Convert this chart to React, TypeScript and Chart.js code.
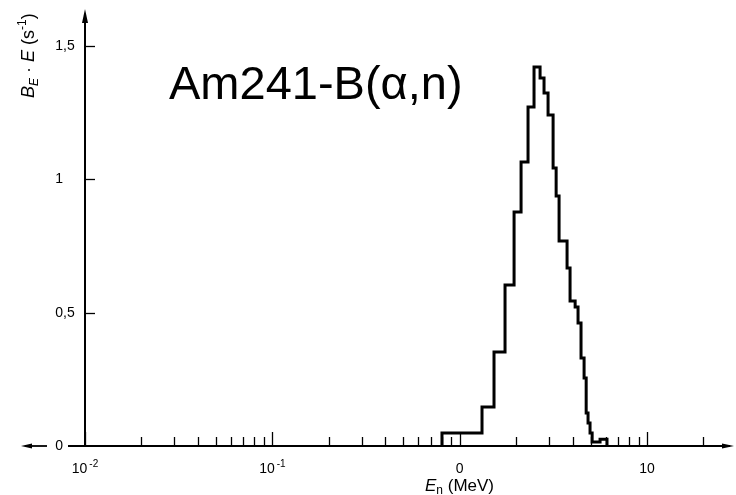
import React, { useEffect, useRef } from "react";
import { Chart, registerables } from "chart.js";

Chart.register(...registerables);

// Histogram bin edges (MeV) and bin heights B_E·E (s^-1)
const binEdgesMeV = [
  0.804, 1.315, 1.524, 1.745, 1.95, 2.125, 2.315, 2.492, 2.684, 2.818, 2.961,
  3.15, 3.27, 3.39, 3.74, 3.88, 4.13, 4.28, 4.44, 4.61, 4.73, 4.84, 4.96, 5.09,
  5.61, 6.11,
];
const binValues = [
  0.049, 0.146, 0.352, 0.604, 0.877, 1.065, 1.271, 1.421, 1.38, 1.324, 1.241,
  1.042, 0.937, 0.769, 0.667, 0.544, 0.521, 0.461, 0.33, 0.255, 0.124, 0.086,
  0.049, 0.015, 0.025,
];

// Axis ticks
const xMajorTicks = [0.01, 0.1, 1, 10];
const xMajorBase = ["10", "10", "0", "10"];
const xMajorExp = ["-2", "-1", "", ""];
const xMinorTicks = [
  0.02, 0.03, 0.04, 0.05, 0.06, 0.07, 0.08, 0.09,
  0.2, 0.3, 0.4, 0.5, 0.6, 0.7, 0.8, 0.9,
  2, 3, 4, 5, 6, 7, 8, 9,
  20,
];
const yTicks = [0, 0.5, 1, 1.5];
const yTickLabels = ["0", "0,5", "1", "1,5"];

const titleText = "Am241-B(α,n)";
const FONT = "'Liberation Sans', Arial, Helvetica, sans-serif";

const axesPlugin = {
  id: "sketchAxes",
  afterDraw(chart: any) {
    const ctx: CanvasRenderingContext2D = chart.ctx;
    const xs = chart.scales.x;
    const ys = chart.scales.y;
    const x0 = xs.getPixelForValue(xs.min);
    const y0 = ys.getPixelForValue(0);
    const yTop = chart.chartArea.top;
    const xRight = chart.chartArea.right;
    ctx.save();
    ctx.strokeStyle = "#000";
    ctx.fillStyle = "#000";

    // x axis line
    ctx.lineWidth = 2;
    ctx.beginPath();
    ctx.moveTo(x0 - 17, y0);
    ctx.lineTo(xRight, y0);
    ctx.stroke();
    // right arrow head
    ctx.beginPath();
    ctx.moveTo(xRight + 4, y0);
    ctx.lineTo(xRight - 8, y0 - 2.5);
    ctx.lineTo(xRight - 8, y0 + 2.5);
    ctx.closePath();
    ctx.fill();

    // left-pointing arrow
    ctx.lineWidth = 1.8;
    ctx.beginPath();
    ctx.moveTo(x0 - 38, y0);
    ctx.lineTo(x0 - 60, y0);
    ctx.stroke();
    ctx.beginPath();
    ctx.moveTo(x0 - 64, y0);
    ctx.lineTo(x0 - 53, y0 - 2.5);
    ctx.lineTo(x0 - 53, y0 + 2.5);
    ctx.closePath();
    ctx.fill();

    // y axis line
    ctx.lineWidth = 2;
    ctx.beginPath();
    ctx.moveTo(x0, y0 + 1);
    ctx.lineTo(x0, yTop + 4);
    ctx.stroke();
    ctx.beginPath();
    ctx.moveTo(x0, yTop - 2);
    ctx.lineTo(x0 - 3, yTop + 12);
    ctx.lineTo(x0 + 3, yTop + 12);
    ctx.closePath();
    ctx.fill();

    // x ticks (upwards)
    ctx.lineWidth = 1.3;
    for (const v of xMinorTicks) {
      const px = Math.round(xs.getPixelForValue(v)) + 0.5;
      ctx.beginPath();
      ctx.moveTo(px, y0);
      ctx.lineTo(px, y0 - 9);
      ctx.stroke();
    }
    for (const v of xMajorTicks) {
      const px = Math.round(xs.getPixelForValue(v)) + 0.5;
      ctx.beginPath();
      ctx.moveTo(px, y0);
      ctx.lineTo(px, y0 - 14);
      ctx.stroke();
    }
    // y ticks (rightwards)
    for (const v of yTicks) {
      if (v === 0) continue;
      const py = Math.round(ys.getPixelForValue(v)) + 0.5;
      ctx.beginPath();
      ctx.moveTo(x0, py);
      ctx.lineTo(x0 + 10, py);
      ctx.stroke();
    }

    // x tick labels
    ctx.textBaseline = "alphabetic";
    xMajorTicks.forEach((v, i) => {
      const px = xs.getPixelForValue(v);
      ctx.font = `14px ${FONT}`;
      const wb = ctx.measureText(xMajorBase[i]).width;
      ctx.font = `10px ${FONT}`;
      const we = xMajorExp[i] ? ctx.measureText(xMajorExp[i]).width + 2 : 0;
      const start = px - (wb + we) / 2;
      ctx.font = `14px ${FONT}`;
      ctx.textAlign = "left";
      ctx.fillText(xMajorBase[i], start, y0 + 27);
      if (xMajorExp[i]) {
        ctx.font = `10px ${FONT}`;
        ctx.fillText(xMajorExp[i], start + wb + 2, y0 + 21);
      }
    });

    // y tick labels (aligned on the decimal comma)
    ctx.font = `14px ${FONT}`;
    ctx.textBaseline = "middle";
    yTicks.forEach((v, i) => {
      const py = ys.getPixelForValue(v);
      const parts = yTickLabels[i].split(",");
      ctx.textAlign = "right";
      ctx.fillText(parts[0], x0 - 22, py);
      if (parts.length > 1) {
        ctx.textAlign = "left";
        ctx.fillText("," + parts[1], x0 - 22, py);
      }
    });

    // x axis title: E_n (MeV)
    ctx.textBaseline = "alphabetic";
    ctx.textAlign = "left";
    let tx = 425;
    const tb = 491;
    ctx.font = `italic 17px ${FONT}`;
    ctx.fillText("E", tx, tb);
    tx += ctx.measureText("E").width;
    ctx.font = `12px ${FONT}`;
    ctx.fillText("n", tx, tb + 3);
    tx += ctx.measureText("n").width;
    ctx.font = `17px ${FONT}`;
    ctx.fillText(" (MeV)", tx, tb);

    // y axis title: B_E · E (s^-1), rotated
    ctx.save();
    ctx.translate(34, 98);
    ctx.rotate(-Math.PI / 2);
    let ry = 0;
    const pieces: [string, string, number][] = [
      ["B", `italic 18px ${FONT}`, 0],
      ["E", `italic 12px ${FONT}`, 4],
      [" · ", `18px ${FONT}`, 0],
      ["E", `italic 18px ${FONT}`, 0],
      [" (s", `18px ${FONT}`, 0],
      ["-1", `12px ${FONT}`, -8],
      [")", `18px ${FONT}`, 0],
    ];
    for (const [t, f, dy] of pieces) {
      ctx.font = f;
      ctx.fillText(t, ry, dy);
      ry += ctx.measureText(t).width;
    }
    ctx.restore();

    // main title
    ctx.font = `47px ${FONT}`;
    ctx.textAlign = "left";
    ctx.textBaseline = "alphabetic";
    ctx.fillText(titleText, 169, 99);

    ctx.restore();
  },
};

export default function App() {
  const canvasRef = useRef<HTMLCanvasElement | null>(null);

  useEffect(() => {
    const canvas = canvasRef.current;
    if (!canvas) return;
    const points: { x: number; y: number }[] = [{ x: binEdgesMeV[0], y: 0 }];
    binValues.forEach((v, i) => points.push({ x: binEdgesMeV[i], y: v }));
    points.push({ x: binEdgesMeV[binEdgesMeV.length - 1], y: 0 });

    const chart = new Chart(canvas, {
      type: "line",
      data: {
        datasets: [
          {
            data: points,
            stepped: "before",
            borderColor: "#000",
            borderWidth: 3,
            pointRadius: 0,
            fill: false,
            clip: false as any,
            borderJoinStyle: "miter",
          },
        ],
      },
      options: {
        animation: false,
        responsive: false,
        devicePixelRatio: 1,
        parsing: false,
        layout: { padding: { left: 85, right: 6, top: 11, bottom: 49 } },
        plugins: {
          legend: { display: false },
          title: { display: false },
          tooltip: { enabled: false },
        },
        scales: {
          x: { type: "logarithmic", min: 0.01, max: 27.7, display: false },
          y: { type: "linear", min: 0, max: 1.631, display: false },
        },
      },
      plugins: [axesPlugin],
    });
    return () => chart.destroy();
  }, []);

  return (
    <div style={{ position: "fixed", left: 0, top: 0, width: 736, height: 495, background: "#fff" }}>
      <canvas ref={canvasRef} width={736} height={495} style={{ display: "block" }} />
    </div>
  );
}
